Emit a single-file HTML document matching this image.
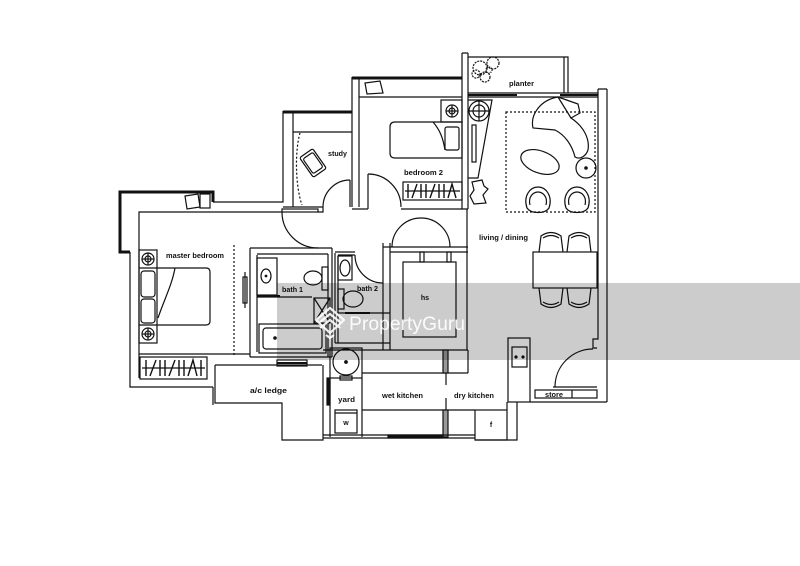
<!DOCTYPE html>
<html><head><meta charset="utf-8"><style>
html,body{margin:0;padding:0;background:#fff;}
svg{display:block;}
text{font-family:"Liberation Sans",sans-serif;font-weight:bold;fill:#111;}
</style></head><body>
<svg width="800" height="566" viewBox="0 0 800 566" xmlns="http://www.w3.org/2000/svg">
<rect width="800" height="566" fill="#fff"/>
<g fill="none" stroke="#111" stroke-width="1.2">
<path d="M130,252 L120,252 L120,192 L213,192 L213,202" stroke-width="3"/>
<path d="M130,252 L130,387 L213,387"/>
<path d="M213,202 L283,202 L283,111"/>
<path d="M139,378 L139,212 L282,212"/>
<rect x="282" y="209" width="36" height="3"/>
<path d="M318,212 L323,212 L323,207"/>
<path d="M282,212 A36,36 0 0,0 318,248"/>
<path d="M185,196 L198,194 L200,207 L187,209 Z"/>
<rect x="200" y="194" width="10" height="14"/>
<rect x="139" y="250" width="18" height="93"/>
<line x1="139" y1="268" x2="157" y2="268"/>
<line x1="139" y1="325" x2="157" y2="325"/>
<circle cx="148" cy="259" r="6"/><circle cx="148" cy="259" r="3"/>
<line x1="142" y1="259" x2="154" y2="259"/><line x1="148" y1="253" x2="148" y2="265"/>
<circle cx="148" cy="334" r="6"/><circle cx="148" cy="334" r="3"/>
<line x1="142" y1="334" x2="154" y2="334"/><line x1="148" y1="328" x2="148" y2="340"/>
<rect x="141" y="271" width="14" height="26" rx="3"/>
<rect x="141" y="299" width="14" height="24" rx="3"/>
<path d="M157,268 L206,268 Q210,268 210,272 L210,321 Q210,325 206,325 L157,325"/>
<path d="M175,268 C172,285 164,300 158,318"/>
<line x1="234" y1="245" x2="234" y2="355" stroke-dasharray="2,2"/>
<rect x="243" y="277" width="4" height="26"/>
<line x1="245" y1="272" x2="245" y2="308"/>
<line x1="139" y1="354" x2="250" y2="354"/>
<rect x="140" y="357" width="67" height="22"/>
<line x1="142" y1="368" x2="205" y2="368"/>
<path d="M146,360 L146,376 M150,376 L156,360 M160,360 L160,376 M165,360 L165,376 M169,376 L175,360 M179,360 L179,376 M184,360 L184,376 M188,376 L193,360 L197,376 M201,360 L201,376" stroke-width="1.4"/>
<path d="M215,365 L322,365 M215,365 L215,403 L282,403 L282,440 L323,440 L323,365"/>
<path d="M213,387 L213,405"/>
<path d="M250,248 L250,357 M257,255 L257,352"/>
<path d="M250,248 L332,248 M257,254 L328,254"/>
<path d="M328,254 L328,357 M332,248 L332,357"/>
<rect x="257" y="258" width="20" height="37"/>
<ellipse cx="266" cy="276" rx="5" ry="7"/>
<circle cx="266" cy="276" r="0.8" fill="#111"/>
<ellipse cx="313" cy="278" rx="9" ry="7"/>
<rect x="322" y="267" width="6" height="23"/>
<line x1="257" y1="297" x2="312" y2="297"/>
<line x1="257" y1="296" x2="280" y2="296" stroke-width="2"/>
<rect x="314" y="298" width="16" height="25"/>
<path d="M314,298 L330,323 M330,298 L314,323"/>
<rect x="259" y="324" width="67" height="29"/>
<rect x="263" y="328" width="59" height="21" rx="3"/>
<circle cx="275" cy="338" r="1.2" fill="#111"/>
<line x1="250" y1="357" x2="332" y2="357"/>
<rect x="277" y="360" width="30" height="6"/>
<line x1="277" y1="363" x2="307" y2="363" stroke-width="2"/>
<path d="M335,253 L335,343 M338,256 L338,343"/>
<path d="M335,252 L355,252 M338,255 L355,255"/>
<rect x="338" y="256" width="14" height="24"/>
<ellipse cx="345" cy="268" rx="5" ry="8"/>
<path d="M355,255 A28,28 0 0,0 383,283"/>
<path d="M383,243 L383,350 M390,243 L390,350"/>
<ellipse cx="353" cy="299" rx="10" ry="8"/>
<rect x="338" y="289" width="6" height="20"/>
<line x1="335" y1="313" x2="390" y2="313"/>
<line x1="345" y1="313" x2="370" y2="313" stroke-width="2"/>
<line x1="335" y1="343" x2="390" y2="343"/>
<path d="M392,247 A29,29 0 0,1 450,247"/>
<path d="M383,247 L468,247 M390,252 L468,252"/>
<path d="M467,209 L467,350"/>
<rect x="403" y="262" width="53" height="75"/>
<rect x="420" y="252" width="4" height="10"/>
<rect x="447" y="252" width="4" height="10"/>
<line x1="323" y1="350" x2="468" y2="350"/>
<rect x="330" y="348" width="32" height="30"/>
<circle cx="346" cy="362" r="13"/>
<circle cx="346" cy="362" r="1.3" fill="#111"/>
<rect x="340" y="376" width="12" height="4"/>
<path d="M330,378 L330,437 M362,378 L362,437"/>
<rect x="327" y="378" width="3" height="27" fill="#111"/>
<rect x="335" y="410" width="22" height="23"/>
<line x1="335" y1="413" x2="357" y2="413"/>
<line x1="362" y1="373" x2="468" y2="373"/>
<line x1="468" y1="350" x2="468" y2="373"/>
<line x1="362" y1="410" x2="475" y2="410"/>
<rect x="443" y="350" width="5" height="23" fill="#999"/>
<line x1="446" y1="373" x2="446" y2="385"/>
<rect x="443" y="410" width="5" height="27" fill="#999"/>
<line x1="446" y1="398" x2="446" y2="410"/>
<path d="M323,435 L475,435 M323,438 L475,438"/>
<rect x="388" y="435" width="54" height="3" fill="#111"/>
<rect x="475" y="410" width="32" height="30"/>
<rect x="508" y="338" width="22" height="64"/>
<rect x="512" y="347" width="15" height="20"/>
<circle cx="516" cy="357" r="1" fill="#111"/><circle cx="523" cy="357" r="1" fill="#111"/>
<line x1="507" y1="402" x2="507" y2="410"/>
<path d="M530,402 L607,402"/>
<path d="M517,402 L517,440 L475,440"/>
<path d="M598,89 L598,339 L593,339 L593,348 L597,348"/>
<path d="M607,89 L607,402 M598,89 L607,89"/>
<path d="M593,349 A38,38 0 0,0 555,387"/>
<line x1="553" y1="387" x2="597" y2="387"/>
<rect x="535" y="390" width="62" height="8"/>
<line x1="572" y1="390" x2="572" y2="398"/>
<line x1="283" y1="112" x2="352" y2="112" stroke-width="3"/>
<line x1="293" y1="113" x2="293" y2="207"/>
<line x1="293" y1="132" x2="352" y2="132"/>
<path d="M300,133 C295,150 295,185 302,205" stroke-dasharray="2,2"/>
<g transform="translate(313,163) rotate(-35)">
<rect x="-8" y="-12" width="16" height="24" rx="2"/>
<rect x="-6" y="-9" width="12" height="18" rx="2"/>
</g>
<line x1="283" y1="207" x2="323" y2="207"/>
<path d="M323,207 A27,27 0 0,1 350,180"/>
<line x1="350" y1="180" x2="350" y2="207"/>
<path d="M352,77 L352,207 M359,79 L359,207"/>
<line x1="352" y1="78" x2="462" y2="78" stroke-width="3"/>
<line x1="359" y1="97" x2="462" y2="97"/>
<path d="M365,83 L380,81 L383,93 L367,94 Z"/>
<path d="M462,53 L462,209 M468,53 L468,209 M462,53 L468,53"/>
<path d="M352,209 L368,209 M401,209 L468,209"/>
<path d="M368,174 A33,33 0 0,1 401,207"/>
<line x1="368" y1="174" x2="368" y2="209"/>
<path d="M395,122 L462,122 L462,158 L395,158 Q390,158 390,153 L390,127 Q390,122 395,122 Z"/>
<path d="M433,122 C440,130 443,138 445,150"/>
<rect x="445" y="127" width="14" height="23" rx="2"/>
<rect x="441" y="100" width="21" height="22"/>
<circle cx="452" cy="111" r="6"/><circle cx="452" cy="111" r="3"/>
<line x1="446" y1="111" x2="458" y2="111"/><line x1="452" y1="105" x2="452" y2="117"/>
<path d="M468,100 L492,100 L478,178 L468,178"/>
<circle cx="479" cy="111" r="10"/><circle cx="479" cy="111" r="6"/>
<line x1="469" y1="111" x2="489" y2="111"/><line x1="479" y1="101" x2="479" y2="121"/>
<rect x="472" y="125" width="4" height="37"/>
<path d="M472,182 L482,180 L484,186 L488,189 L483,195 L486,203 L474,204 L470,196 L474,190 Z"/>
<rect x="403" y="182" width="59" height="18"/>
<line x1="405" y1="191" x2="460" y2="191"/>
<path d="M408,184 L408,198 M412,198 L417,184 M421,184 L421,198 M426,184 L426,198 M430,198 L435,184 M439,184 L439,198 M444,184 L444,198 M448,198 L452,184 L456,198" stroke-width="1.4"/>
<path d="M468,57 L568,57 L568,93 M564,57 L564,93"/>
<path d="M468,93 L598,93 M468,97 L598,97"/>
<line x1="468" y1="95" x2="517" y2="95" stroke-width="2"/>
<line x1="560" y1="95" x2="598" y2="95" stroke-width="2"/>
<circle cx="480" cy="68" r="7" stroke-dasharray="2,1"/>
<circle cx="493" cy="63" r="6" stroke-dasharray="2,1"/>
<circle cx="485" cy="77" r="5" stroke-dasharray="2,1"/>
<circle cx="476" cy="74" r="4" stroke-dasharray="2,1"/>
<circle cx="489" cy="70" r="3" stroke-dasharray="1,1"/>
<rect x="506" y="112" width="89" height="100" stroke-dasharray="2,2"/>
<path d="M558,97 L578,104 L580,113 L571,118 C583,126 590,138 588,150 C586,156 580,160 575,157 C572,145 565,135 555,130 L533,128 C530,115 540,100 558,97 Z"/>
<line x1="558" y1="97" x2="571" y2="118"/>
<ellipse cx="540" cy="162" rx="20" ry="11" transform="rotate(20 540 162)"/>
<circle cx="586" cy="168" r="10"/>
<circle cx="586" cy="168" r="1.2" fill="#111"/>
<path d="M527,208 C523,196 530,187 538,187 C546,187 553,196 549,208 C545,214 531,214 527,208 Z"/>
<path d="M530,205 C528,197 533,192 538,192 C543,192 548,197 546,205"/>
<path d="M566,208 C562,196 569,187 577,187 C585,187 592,196 588,208 C584,214 570,214 566,208 Z"/>
<path d="M569,205 C567,197 572,192 577,192 C582,192 587,197 585,205"/>
<rect x="533" y="252" width="64" height="36"/>
<path d="M539,252 L541,236 Q551,229 561,236 L563,252 M543,238 Q551,233 559,238"/>
<path d="M567,252 L569,236 Q579,229 589,236 L591,252 M571,238 Q579,233 587,238"/>
<path d="M539,288 L541,304 Q551,311 561,304 L563,288 M543,302 Q551,307 559,302"/>
<path d="M567,288 L569,304 Q579,311 589,304 L591,288 M571,302 Q579,307 587,302"/>
</g>
<text x="166" y="258" font-size="7.5" textLength="58" lengthAdjust="spacingAndGlyphs">master bedroom</text>
<text x="328" y="156" font-size="7.5" textLength="19" lengthAdjust="spacingAndGlyphs">study</text>
<text x="404" y="175" font-size="7.5" textLength="39" lengthAdjust="spacingAndGlyphs">bedroom 2</text>
<text x="509" y="86" font-size="7.5" textLength="25" lengthAdjust="spacingAndGlyphs">planter</text>
<text x="479" y="240" font-size="7.5" textLength="49" lengthAdjust="spacingAndGlyphs">living / dining</text>
<text x="282" y="292" font-size="7.5" textLength="21" lengthAdjust="spacingAndGlyphs">bath 1</text>
<text x="357" y="291" font-size="7.5" textLength="21" lengthAdjust="spacingAndGlyphs">bath 2</text>
<text x="425" y="300" font-size="7" text-anchor="middle">hs</text>
<text x="250" y="393" font-size="7.5" textLength="37" lengthAdjust="spacingAndGlyphs">a/c ledge</text>
<text x="338" y="402" font-size="7.5" textLength="17" lengthAdjust="spacingAndGlyphs">yard</text>
<text x="382" y="398" font-size="7.5" textLength="41" lengthAdjust="spacingAndGlyphs">wet kitchen</text>
<text x="454" y="398" font-size="7.5" textLength="40" lengthAdjust="spacingAndGlyphs">dry kitchen</text>
<text x="346" y="425" font-size="7" text-anchor="middle">w</text>
<text x="491" y="427" font-size="7" text-anchor="middle">f</text>
<text x="545" y="397" font-size="7" textLength="18" lengthAdjust="spacingAndGlyphs">store</text>
<rect x="277" y="283" width="523" height="77" fill="rgba(0,0,0,0.2)"/>
<g fill="none" stroke="#fff" stroke-width="2.2" stroke-linejoin="round" opacity="0.9">
<path d="M316,320 L330,308 L344,320 L330,333 Z"/>
<path d="M320,322 L330,314 L340,322"/>
<path d="M320,328 L330,320 L340,328"/>
<path d="M326,335 L330,338 L334,335"/>
</g>
<text x="349" y="330" font-size="19" style="font-weight:normal;fill:#fff;opacity:0.92" textLength="116" lengthAdjust="spacingAndGlyphs">PropertyGuru</text>
</svg>
</body></html>
